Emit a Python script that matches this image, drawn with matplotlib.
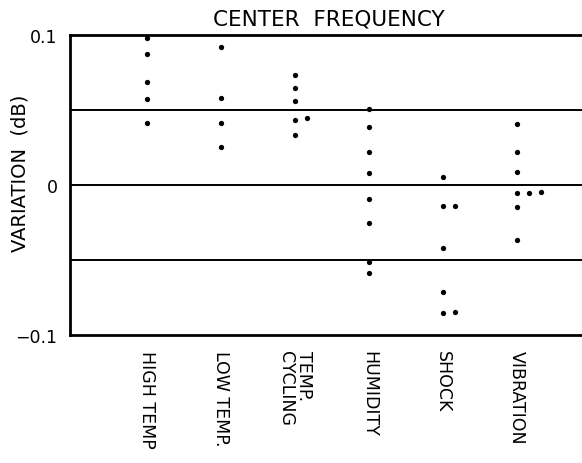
import matplotlib
matplotlib.use("Agg")
import matplotlib.pyplot as plt
import numpy as np

plt.rcParams['font.family'] = ['DejaVu Sans']

categories = ["HIGH TEMP", "LOW TEMP.", "TEMP.\nCYCLING", "HUMIDITY", "SHOCK", "VIBRATION"]

high_temp = [0.098, 0.0875, 0.0685, 0.0573, 0.0415]
low_temp = [0.0922, 0.0582, 0.0415, 0.0255]
temp_cycling = [0.0735, 0.0645, 0.056, 0.0433, 0.0333]
temp_cycling_side = [0.0449]
humidity = [0.051, 0.0387, 0.0222, 0.008, -0.0095, -0.0252, -0.0511, -0.0585]
shock = [0.0051, -0.014, -0.0422, -0.0715, -0.0855]
shock_side = [-0.014, -0.0849]
vibration = [0.0405, 0.0218, 0.0085, -0.0055, -0.0149, -0.0367]
vibration_side1 = [-0.0051]
vibration_side2 = [-0.0045]

main_series = [high_temp, low_temp, temp_cycling, humidity, shock, vibration]
side_series = [(3, 1, temp_cycling_side), (5, 1, shock_side),
               (6, 1, vibration_side1), (6, 2, vibration_side2)]

fig = plt.figure(figsize=(5.82, 4.64), dpi=100)
ax = fig.add_axes([70/582, 1 - 336/464, 1 - 70/582, 300/464])

pos = np.arange(1, len(categories) + 1)
step = 0.16
for p, vals in zip(pos, main_series):
    ax.plot([p] * len(vals), vals, 'o', color='black', markersize=3.8, markeredgewidth=0)
for p, slot, vals in side_series:
    ax.plot([p + slot * step] * len(vals), vals, 'o', color='black', markersize=3.8, markeredgewidth=0)

for yv in [0.05, 0.0, -0.05]:
    ax.axhline(yv, color='black', linewidth=1.4, zorder=0)

ax.set_xlim(-0.04, 6.88)
ax.set_ylim(-0.1, 0.1)

for s in ['left', 'top', 'bottom']:
    ax.spines[s].set_linewidth(2.0)
ax.spines['right'].set_visible(False)

ax.set_yticks([0.1, 0.0, -0.1])
ax.set_yticklabels(["0.1", "0", "\u22120.1"], fontsize=12.5)
ax.tick_params(axis='y', length=0, pad=9)

ax.set_xticks(pos)
ax.set_xticklabels(categories, rotation=-90, fontsize=12.5, va='top', ha='center',
                   multialignment='left', linespacing=0.95)
ax.tick_params(axis='x', length=0, pad=11)

fig.text(20/582, 1 - 173/464, "VARIATION  (dB)", rotation=90, ha='center', va='center', fontsize=14)
fig.text(329/582, 1 - 19/464, "CENTER  FREQUENCY", ha='center', va='center', fontsize=15.5)

fig.savefig("out.png", dpi=100)
